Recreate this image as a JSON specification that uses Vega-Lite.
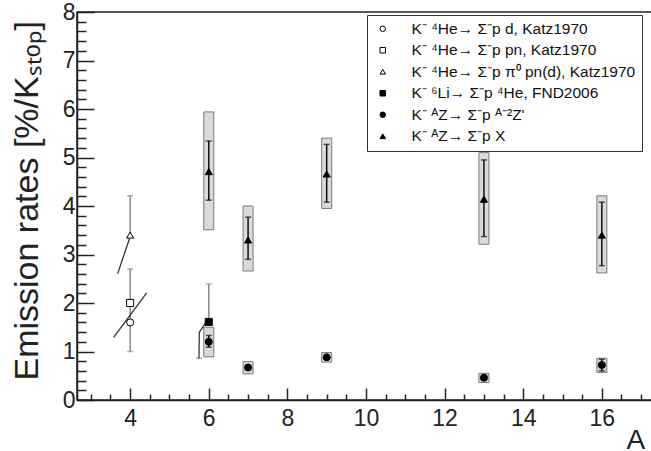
{
  "$schema": "https://vega.github.io/schema/vega-lite/v6.json",
  "width": 577,
  "height": 388,
  "autosize": {"type": "none"},
  "padding": {"left": 77, "top": 12, "right": 0, "bottom": 51},
  "background": "white",
  "config": {
    "view": {"stroke": "#222", "strokeWidth": 1.5},
    "font": "Liberation Sans",
    "legend": {"orient": "none", "legendX": 290, "legendY": 3,
      "strokeColor": "#333", "fillColor": "white", "padding": 6,
      "labelFontSize": 15.5, "labelFont": "Liberation Sans", "labelColor": "#111", "labelLimit": 400,
      "symbolSize": 30, "symbolStrokeWidth": 1,
      "symbolOffset": 2, "labelOffset": 21, "rowPadding": 4.5}
  },
  "datasets": {
    "boxes": [
      {"A": 6, "lo": 0.89, "hi": 1.5},
      {"A": 6, "lo": 3.51, "hi": 5.94},
      {"A": 7, "lo": 2.66, "hi": 4.0},
      {"A": 7, "lo": 0.54, "hi": 0.79},
      {"A": 9, "lo": 3.95, "hi": 5.4},
      {"A": 9, "lo": 0.78, "hi": 0.98},
      {"A": 13, "lo": 3.21, "hi": 5.1},
      {"A": 13, "lo": 0.36, "hi": 0.55},
      {"A": 16, "lo": 2.62, "hi": 4.21},
      {"A": 16, "lo": 0.57, "hi": 0.86}
    ],
    "errors": [
      {"A": 4, "lo": 1.0, "hi": 2.7, "grp": "katz"},
      {"A": 4, "lo": 3.4, "hi": 4.21, "grp": "katz"},
      {"A": 6, "lo": 1.61, "hi": 2.39, "grp": "katz"},
      {"A": 6, "lo": 1.09, "hi": 1.33, "grp": "ours"},
      {"A": 6, "lo": 4.12, "hi": 5.34, "grp": "ours"},
      {"A": 7, "lo": 2.9, "hi": 3.77, "grp": "ours"},
      {"A": 9, "lo": 4.08, "hi": 5.27, "grp": "ours"},
      {"A": 13, "lo": 3.37, "hi": 4.95, "grp": "ours"},
      {"A": 16, "lo": 2.77, "hi": 4.08, "grp": "ours"},
      {"A": 16, "lo": 0.6, "hi": 0.84, "grp": "ours"}
    ],
    "caps": [
      {"A": 4, "y": 1.0, "grp": "katz"},
      {"A": 4, "y": 2.7, "grp": "katz"},
      {"A": 4, "y": 4.21, "grp": "katz"},
      {"A": 6, "y": 2.39, "grp": "katz"},
      {"A": 5.75, "y": 0.86, "grp": "katz"},
      {"A": 6, "y": 1.09, "grp": "ours"},
      {"A": 6, "y": 1.33, "grp": "ours"},
      {"A": 6, "y": 4.12, "grp": "ours"},
      {"A": 6, "y": 5.34, "grp": "ours"},
      {"A": 7, "y": 2.9, "grp": "ours"},
      {"A": 7, "y": 3.77, "grp": "ours"},
      {"A": 9, "y": 4.08, "grp": "ours"},
      {"A": 9, "y": 5.27, "grp": "ours"},
      {"A": 13, "y": 3.37, "grp": "ours"},
      {"A": 13, "y": 4.95, "grp": "ours"},
      {"A": 16, "y": 2.77, "grp": "ours"},
      {"A": 16, "y": 4.08, "grp": "ours"},
      {"A": 16, "y": 0.6, "grp": "ours"},
      {"A": 16, "y": 0.84, "grp": "ours"}
    ],
    "lines": [
      {"grp": "a", "x": 3.58, "y": 1.29},
      {"grp": "a", "x": 4.42, "y": 2.21},
      {"grp": "b", "x": 3.68, "y": 2.6},
      {"grp": "b", "x": 3.98, "y": 3.32},
      {"grp": "c", "x": 5.75, "y": 0.86},
      {"grp": "c", "x": 5.76, "y": 1.4},
      {"grp": "c", "x": 5.93, "y": 1.6}
    ],
    "points": [
      {"A": 4, "y": 1.6, "s": "K⁻ ⁴He→ Σ⁻p d, Katz1970"},
      {"A": 4, "y": 2.0, "s": "K⁻ ⁴He→ Σ⁻p pn, Katz1970"},
      {"A": 4, "y": 3.4, "s": "K⁻ ⁴He→ Σ⁻p π⁰ pn(d), Katz1970"},
      {"A": 6, "y": 1.61, "s": "K⁻ ⁶Li→ Σ⁻p ⁴He, FND2006"},
      {"A": 6, "y": 1.2, "s": "K⁻ ᴬZ→ Σ⁻p ᴬ⁻²Z'"},
      {"A": 7, "y": 0.67, "s": "K⁻ ᴬZ→ Σ⁻p ᴬ⁻²Z'"},
      {"A": 9, "y": 0.88, "s": "K⁻ ᴬZ→ Σ⁻p ᴬ⁻²Z'"},
      {"A": 13, "y": 0.46, "s": "K⁻ ᴬZ→ Σ⁻p ᴬ⁻²Z'"},
      {"A": 16, "y": 0.72, "s": "K⁻ ᴬZ→ Σ⁻p ᴬ⁻²Z'"},
      {"A": 6, "y": 4.71, "s": "K⁻ ᴬZ→ Σ⁻p X"},
      {"A": 7, "y": 3.3, "s": "K⁻ ᴬZ→ Σ⁻p X"},
      {"A": 9, "y": 4.66, "s": "K⁻ ᴬZ→ Σ⁻p X"},
      {"A": 13, "y": 4.14, "s": "K⁻ ᴬZ→ Σ⁻p X"},
      {"A": 16, "y": 3.4, "s": "K⁻ ᴬZ→ Σ⁻p X"}
    ]
  },
  "layer": [
    {
      "data": {"name": "boxes"},
      "mark": {"type": "bar", "width": 10, "fill": "#dadada", "stroke": "#7a7a7a", "strokeWidth": 1},
      "encoding": {
        "x": {"field": "A", "type": "quantitative",
          "scale": {"domain": [2.775, 17.2], "nice": false, "zero": false},
          "axis": {"orient": "bottom", "title": "A", "tickCount": 200, "zindex": 1,
            "values": [3, 3.5, 4, 4.5, 5, 5.5, 6, 6.5, 7, 7.5, 8, 8.5, 9, 9.5, 10, 10.5, 11, 11.5, 12, 12.5, 13, 13.5, 14, 14.5, 15, 15.5, 16, 16.5, 17],
            "labelExpr": "datum.value % 2 === 0 ? '' + datum.value : ''",
            "grid": false, "ticks": true,
            "tickSize": {"condition": {"test": "datum.value % 2 === 0", "value": -12}, "value": -6},
            "tickColor": "#222", "tickWidth": 1.5, "tickOpacity": 1,
            "labelFontSize": 23, "labelColor": "#222", "labelPadding": 19, "labelFlush": false, "labelOverlap": false,
            "domainColor": "#222", "domainWidth": 1.5,
            "titleFontSize": 28, "titleFontWeight": "normal", "titleColor": "#222",
            "titleX": 549, "titleY": 48, "titleAlign": "left", "titleBaseline": "alphabetic"}},
        "y": {"field": "lo", "type": "quantitative",
          "scale": {"domain": [0, 8], "nice": false, "zero": false},
          "axis": {"orient": "left", "title": "Emission rates [%/Kₛₜₒₚ]", "tickCount": 200, "zindex": 1,
            "values": [0, 0.2, 0.4, 0.6, 0.8, 1, 1.2, 1.4, 1.6, 1.8, 2, 2.2, 2.4, 2.6, 2.8, 3, 3.2, 3.4, 3.6, 3.8, 4, 4.2, 4.4, 4.6, 4.8, 5, 5.2, 5.4, 5.6, 5.8, 6, 6.2, 6.4, 6.6, 6.8, 7, 7.2, 7.4, 7.6, 7.8, 8],
            "labelExpr": "datum.value % 1 === 0 ? '' + datum.value : ''",
            "grid": false, "ticks": true,
            "tickSize": {"condition": {"test": "datum.value % 1 === 0", "value": -17}, "value": -9},
            "tickColor": "#222", "tickWidth": 1.5, "tickOpacity": 1,
            "labelFontSize": 23, "labelColor": "#222", "labelPadding": 19, "labelFlush": false, "labelOverlap": false,
            "domainColor": "#222", "domainWidth": 1.5,
            "titleFontSize": 34, "titleFontWeight": "normal", "titleColor": "#222",
            "titleAngle": -90, "titleX": -40, "titleY": 368, "titleAlign": "left", "titleBaseline": "alphabetic"}},
        "y2": {"field": "hi"}
      }
    },
    {
      "data": {"name": "errors"},
      "mark": {"type": "rule", "strokeWidth": 1.5},
      "encoding": {
        "x": {"field": "A", "type": "quantitative"},
        "y": {"field": "lo", "type": "quantitative"},
        "y2": {"field": "hi"},
        "color": {"field": "grp", "type": "nominal", "scale": {"domain": ["katz", "ours"], "range": ["#8a8a8a", "#111111"]}, "legend": null}
      }
    },
    {
      "data": {"name": "caps"},
      "mark": {"type": "tick", "orient": "horizontal", "size": 6, "thickness": 1.5},
      "encoding": {
        "x": {"field": "A", "type": "quantitative"},
        "y": {"field": "y", "type": "quantitative"},
        "color": {"field": "grp", "type": "nominal", "scale": {"domain": ["katz", "ours"], "range": ["#8a8a8a", "#111111"]}, "legend": null}
      }
    },
    {
      "data": {"name": "lines"},
      "mark": {"type": "line", "strokeWidth": 1.3, "color": "#333"},
      "encoding": {
        "x": {"field": "x", "type": "quantitative"},
        "y": {"field": "y", "type": "quantitative"},
        "detail": {"field": "grp", "type": "nominal"}
      }
    },
    {
      "data": {"name": "points"},
      "mark": {"type": "point", "filled": true, "size": 50, "strokeWidth": 1, "opacity": 1},
      "encoding": {
        "x": {"field": "A", "type": "quantitative"},
        "y": {"field": "y", "type": "quantitative"},
        "shape": {"field": "s", "type": "nominal",
          "scale": {"domain": ["K⁻ ⁴He→ Σ⁻p d, Katz1970", "K⁻ ⁴He→ Σ⁻p pn, Katz1970", "K⁻ ⁴He→ Σ⁻p π⁰ pn(d), Katz1970", "K⁻ ⁶Li→ Σ⁻p ⁴He, FND2006", "K⁻ ᴬZ→ Σ⁻p ᴬ⁻²Z'", "K⁻ ᴬZ→ Σ⁻p X"],
            "range": ["circle", "square", "triangle-up", "square", "circle", "triangle-up"]},
          "legend": {"title": null}},
        "fill": {"field": "s", "type": "nominal",
          "scale": {"domain": ["K⁻ ⁴He→ Σ⁻p d, Katz1970", "K⁻ ⁴He→ Σ⁻p pn, Katz1970", "K⁻ ⁴He→ Σ⁻p π⁰ pn(d), Katz1970", "K⁻ ⁶Li→ Σ⁻p ⁴He, FND2006", "K⁻ ᴬZ→ Σ⁻p ᴬ⁻²Z'", "K⁻ ᴬZ→ Σ⁻p X"],
            "range": ["white", "white", "white", "black", "black", "black"]},
          "legend": {"title": null}},
        "stroke": {"field": "s", "type": "nominal",
          "scale": {"domain": ["K⁻ ⁴He→ Σ⁻p d, Katz1970", "K⁻ ⁴He→ Σ⁻p pn, Katz1970", "K⁻ ⁴He→ Σ⁻p π⁰ pn(d), Katz1970", "K⁻ ⁶Li→ Σ⁻p ⁴He, FND2006", "K⁻ ᴬZ→ Σ⁻p ᴬ⁻²Z'", "K⁻ ᴬZ→ Σ⁻p X"],
            "range": ["black", "black", "black", "black", "black", "black"]},
          "legend": {"title": null}}
      }
    }
  ]
}
